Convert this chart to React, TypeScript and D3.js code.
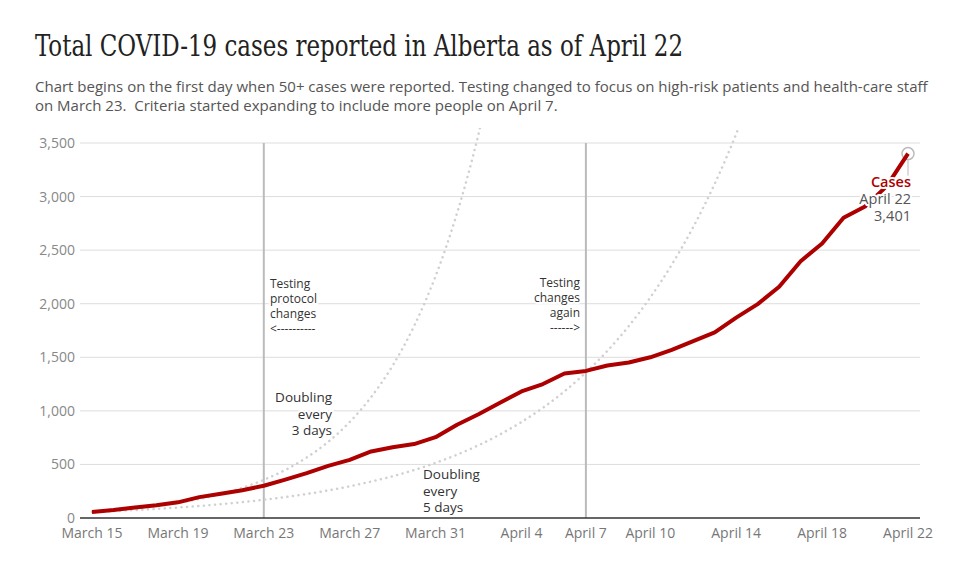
import { useEffect, useRef } from 'react'
import * as d3 from 'd3'

// cumulative Alberta cases, one value per day starting March 15
const startDay = new Date(2020, 2, 15)
const cases = [
    56, 74, 97, 119, 146, 195, 226, 259, 301, 358, 419, 486, 542, 621, 661, 690, 754,
    871, 968, 1075, 1181, 1250, 1348, 1373, 1423, 1451, 1500, 1569, 1651, 1732, 1870,
    1996, 2158, 2397, 2562, 2803, 2908, 3095, 3401,
]
// reference curves (doubling from the first day)
const doubling3 = [56, 71, 89, 112, 141, 178, 224, 282, 356, 448, 565, 711, 896, 1129, 1422, 1792, 2258, 2845, 3584, 4516]
const doubling5 = [
    56, 64, 74, 85, 98, 112, 129, 148, 170, 195, 224, 257, 296, 340, 390, 448, 515, 591,
    679, 780, 896, 1029, 1182, 1358, 1560, 1792, 2059, 2365, 2716, 3120, 3584, 4117,
]
const yTicks = [0, 500, 1000, 1500, 2000, 2500, 3000, 3500]
const xTickDays = [0, 4, 8, 12, 16, 20, 23, 26, 30, 34, 38]
const xTickLabels = ['March 15', 'March 19', 'March 23', 'March 27', 'March 31', 'April 4', 'April 7', 'April 10', 'April 14', 'April 18', 'April 22']
const markerDays = [8, 23]

const title = 'Total COVID-19 cases reported in Alberta as of April 22'
const subtitle = [
    'Chart begins on the first day when 50+ cases were reported. Testing changed to focus on high-risk patients and health-care staff',
    'on March 23.  Criteria started expanding to include more people on April 7.',
]

const day = (i: number) => d3.timeDay.offset(startDay, i)

export default function App() {
    const ref = useRef<SVGSVGElement>(null)

    useEffect(() => {
        const svg = d3.select(ref.current)
        svg.selectAll('*').remove()

        const sans = "'Open Sans', 'Noto Sans', sans-serif"
        const left = 80
        const right = 920

        const xScale = d3.scaleTime().domain([day(0), day(38)]).range([92, 908])
        const yScale = d3.scaleLinear().domain([0, 3500]).range([518, 143])

        svg.append('text')
            .attr('x', 35)
            .attr('y', 56)
            .attr('textLength', 648)
            .attr('lengthAdjust', 'spacingAndGlyphs')
            .style('font-family', "'DejaVu Serif Condensed', 'Liberation Serif', serif")
            .style('font-size', '30px')
            .style('fill', '#222')
            .text(title)

        svg.append('g')
            .selectAll('text')
            .data(subtitle)
            .enter()
            .append('text')
            .attr('x', 35)
            .attr('y', (d, i) => 92 + i * 19)
            .style('font-family', sans)
            .style('font-size', '15px')
            .style('fill', '#555')
            .style('white-space', 'pre')
            .text(d => d)

        // grid
        svg.append('g')
            .selectAll('line')
            .data(yTicks.filter(v => v > 0))
            .enter()
            .append('line')
            .attr('x1', left)
            .attr('x2', right)
            .attr('y1', d => yScale(d))
            .attr('y2', d => yScale(d))
            .style('stroke', '#ddd')
            .style('stroke-width', 1)

        svg.append('g')
            .selectAll('text')
            .data(yTicks)
            .enter()
            .append('text')
            .attr('x', 75)
            .attr('y', d => yScale(d) + 5)
            .attr('text-anchor', 'end')
            .style('font-family', sans)
            .style('font-size', '14px')
            .style('fill', '#888')
            .text(d => d3.format(',')(d))

        svg.append('g')
            .selectAll('text')
            .data(xTickDays)
            .enter()
            .append('text')
            .attr('x', d => xScale(day(d)))
            .attr('y', 538)
            .attr('text-anchor', 'middle')
            .style('font-family', sans)
            .style('font-size', '14px')
            .style('fill', '#777')
            .text((d, i) => xTickLabels[i])

        // vertical markers
        svg.append('g')
            .selectAll('line')
            .data(markerDays)
            .enter()
            .append('line')
            .attr('x1', d => xScale(day(d)))
            .attr('x2', d => xScale(day(d)))
            .attr('y1', yScale(3500))
            .attr('y2', yScale(0))
            .style('stroke', '#bbb')
            .style('stroke-width', 2)

        svg.append('clipPath')
            .attr('id', 'plot-clip')
            .append('rect')
            .attr('x', left)
            .attr('y', 128)
            .attr('width', right - left)
            .attr('height', 400)

        const path = d3.line<number>()
            .x((d, i) => xScale(day(i)))
            .y(d => yScale(d))
            .curve(d3.curveMonotoneX)

        for (const series of [doubling3, doubling5]) {
            svg.append('path')
                .datum(series)
                .attr('d', path)
                .attr('clip-path', 'url(#plot-clip)')
                .style('fill', 'none')
                .style('stroke', '#d0d0d0')
                .style('stroke-width', 2.5)
                .style('stroke-dasharray', '0.1 5.5')
                .style('stroke-linecap', 'round')
        }

        const halo = (sel: any) => sel
            .style('paint-order', 'stroke')
            .style('stroke', '#fff')
            .style('stroke-width', 4)
            .style('stroke-linejoin', 'round')

        const note = (lines: string[], x: number, y: number, anchor: string, size: number, lh: number) => {
            svg.append('g')
                .selectAll('text')
                .data(lines)
                .enter()
                .append('text')
                .attr('x', x)
                .attr('y', (d, i) => y + i * lh)
                .attr('text-anchor', anchor)
                .style('font-family', sans)
                .style('font-size', size + 'px')
                .style('fill', '#333')
                .call(halo)
                .text(d => d)
        }

        note(['Testing', 'protocol', 'changes', '<----------'], 270, 288, 'start', 12, 15)
        note(['Testing', 'changes', 'again', '------>'], 580, 287, 'end', 12, 15)
        note(['Doubling', 'every', '3 days'], 332, 402, 'end', 13.5, 16.5)
        note(['Doubling', 'every', '5 days'], 423, 479, 'start', 13.5, 16.5)

        // zero line
        svg.append('line')
            .attr('x1', left)
            .attr('x2', right)
            .attr('y1', yScale(0))
            .attr('y2', yScale(0))
            .style('stroke', '#333')
            .style('stroke-width', 1.5)

        const lastX = xScale(day(cases.length - 1))
        const lastY = yScale(cases[cases.length - 1])

        svg.append('circle')
            .attr('cx', lastX)
            .attr('cy', lastY)
            .attr('r', 6)
            .style('fill', '#fff')
            .style('stroke', '#bbb')
            .style('stroke-width', 1.5)

        svg.append('line')
            .attr('x1', lastX)
            .attr('x2', lastX)
            .attr('y1', lastY + 6)
            .attr('y2', lastY + 22)
            .style('stroke', '#bbb')
            .style('stroke-width', 1)

        svg.append('path')
            .datum(cases)
            .attr('d', d3.line<number>().x((d, i) => xScale(day(i))).y(d => yScale(d)))
            .style('fill', 'none')
            .style('stroke', '#ad0000')
            .style('stroke-width', 4)
            .style('stroke-linejoin', 'round')

        const endLabels = [
            { text: 'Cases', color: '#ad0000', weight: 600 },
            { text: 'April 22', color: '#555', weight: 400 },
            { text: d3.format(',')(cases[cases.length - 1]), color: '#555', weight: 400 },
        ]
        svg.append('g')
            .selectAll('text')
            .data(endLabels)
            .enter()
            .append('text')
            .attr('x', lastX + 3)
            .attr('y', (d, i) => 187 + i * 17)
            .attr('text-anchor', 'end')
            .style('font-family', sans)
            .style('font-size', '14.5px')
            .style('font-weight', d => d.weight)
            .style('fill', d => d.color)
            .call(halo)
            .text(d => d.text)
    }, [])

    return (
        <svg
            ref={ref}
            width={967}
            height={562}
            style={{ position: 'absolute', left: 0, top: 0, background: '#fff' }}
        />
    )
}
